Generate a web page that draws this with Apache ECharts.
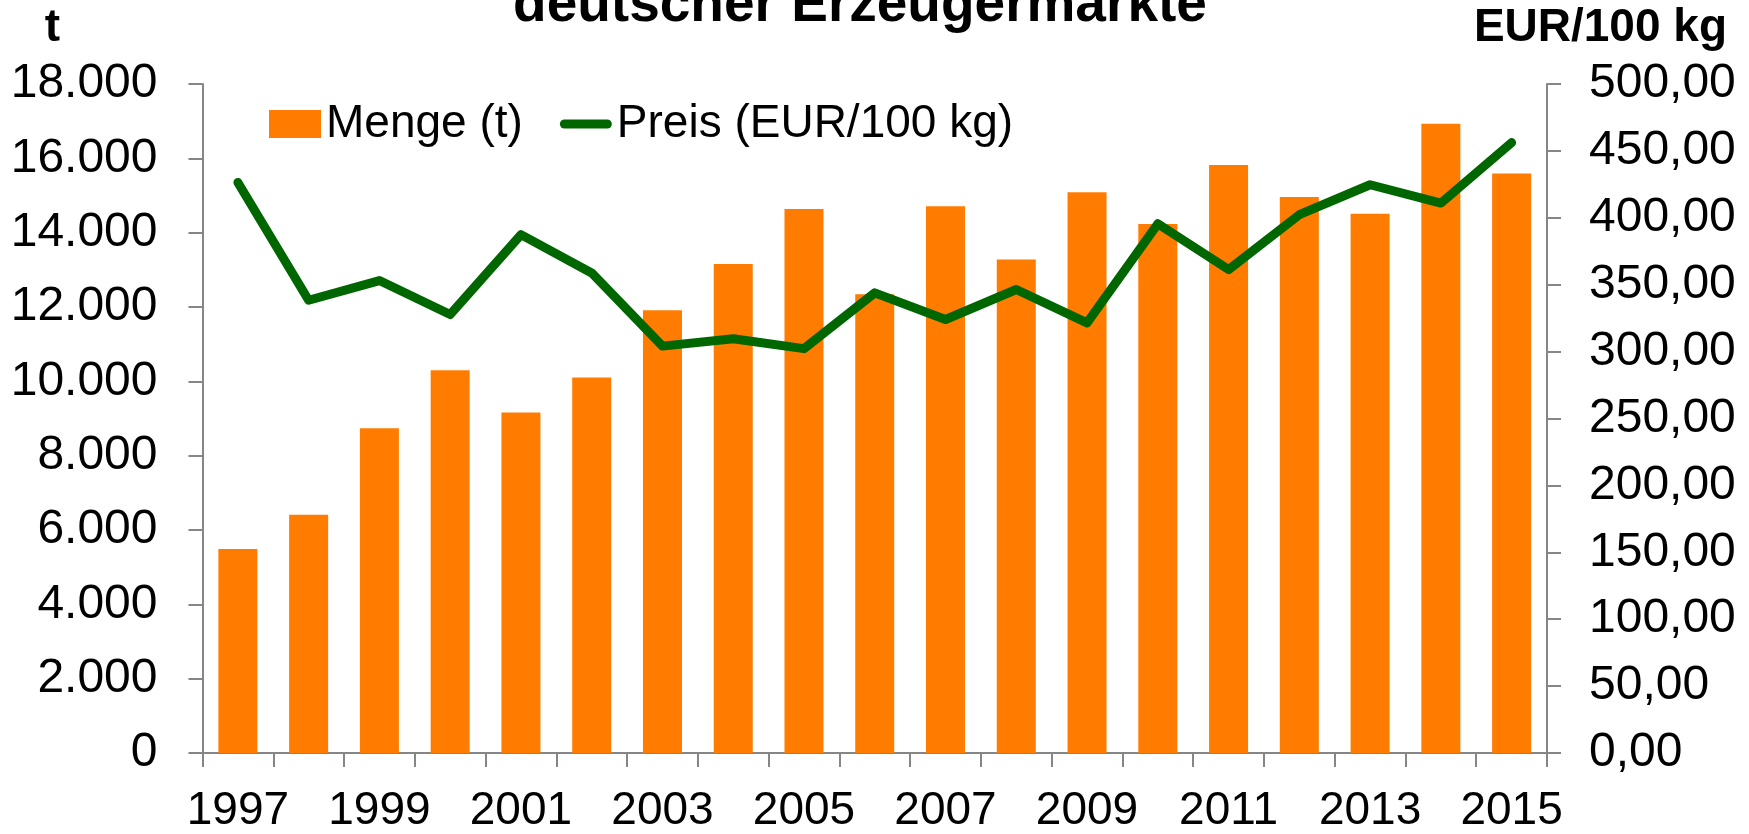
<!DOCTYPE html>
<html>
<head>
<meta charset="utf-8">
<title>Menge und Preis deutscher Erzeugermärkte</title>
<script src="https://cdn.jsdelivr.net/npm/echarts@6/dist/echarts.min.js"></script>
<style>
  html, body { margin: 0; padding: 0; background: #ffffff; }
  #main { width: 1749px; height: 834px; }
</style>
</head>
<body>
<div id="main"></div>
<script>
// Jahre
var years = ['1997', '1998', '1999', '2000', '2001', '2002', '2003', '2004', '2005', '2006',
  '2007', '2008', '2009', '2010', '2011', '2012', '2013', '2014', '2015'];
// Menge (t)
var menge = [5490, 6410, 8740, 10300, 9160, 10100, 11910, 13160, 14640, 12340,
  14710, 13280, 15090, 14230, 15820, 14960, 14510, 16930, 15590];
// Preis (EUR/100 kg)
var preis = [426.4, 338.4, 353.1, 327.7, 387.4, 358.8, 304.1, 309.6, 302.2, 343.9,
  324.0, 346.4, 321.5, 395.5, 361.3, 402.3, 424.7, 411.0, 456.2];

var FONT = "'Liberation Sans', Arial, sans-serif";
var AXIS_GRAY = '#868686';

var chart = echarts.init(document.getElementById('main'));

var option = {
  backgroundColor: '#ffffff',
  animation: false,
  textStyle: { fontFamily: FONT },
  graphic: [
    // Titel (oben abgeschnitten wie im Original)
    {
      type: 'text', x: 860, y: 6, z: 10,
      style: {
        text: 'deutscher Erzeugermärkte', fill: '#000',
        font: 'bold 55px ' + FONT, align: 'center', verticalAlign: 'middle'
      }
    },
    {
      type: 'text', x: 60, y: 28, z: 10,
      style: { text: 't', fill: '#000', font: 'bold 46px ' + FONT, align: 'right', verticalAlign: 'middle' }
    },
    {
      type: 'text', x: 1727, y: 28, z: 10,
      style: { text: 'EUR/100 kg', fill: '#000', font: 'bold 46px ' + FONT, align: 'right', verticalAlign: 'middle' }
    }
  ],
  legend: {
    left: 269,
    top: 101,
    padding: 0,
    itemWidth: 52,
    itemHeight: 28,
    itemGap: 37,
    textStyle: { fontSize: 46, color: '#000', fontFamily: FONT },
    data: [
      { name: 'Menge (t)', icon: 'rect' },
      { name: 'Preis (EUR/100 kg)', icon: 'path://M5,0 L52,0 A5,5 0 0 1 52,10 L5,10 A5,5 0 0 1 5,0 Z' }
    ]
  },
  grid: {
    left: 202.5,
    right: 202,
    top: 84,
    bottom: 79.5,
    containLabel: false
  },
  xAxis: {
    type: 'category',
    data: years,
    boundaryGap: true,
    axisLine: { lineStyle: { color: AXIS_GRAY, width: 2 } },
    axisTick: { show: true, interval: 0, length: 14, lineStyle: { color: AXIS_GRAY, width: 2 } },
    axisLabel: { interval: 1, fontSize: 46, color: '#000', margin: 35, fontFamily: FONT },
    splitLine: { show: false }
  },
  yAxis: [
    {
      type: 'value',
      min: 0,
      max: 18000,
      interval: 2000,
      position: 'left',
      axisLine: { show: true, lineStyle: { color: AXIS_GRAY, width: 2 } },
      axisTick: { show: true, length: 14, lineStyle: { color: AXIS_GRAY, width: 2 } },
      axisLabel: {
        fontSize: 48, color: '#000', margin: 45, fontFamily: FONT,
        formatter: function (v) { return String(v).replace(/\B(?=(\d{3})+(?!\d))/g, '.'); }
      },
      splitLine: { show: false }
    },
    {
      type: 'value',
      min: 0,
      max: 500,
      interval: 50,
      position: 'right',
      axisLine: { show: true, lineStyle: { color: AXIS_GRAY, width: 2 } },
      axisTick: { show: true, length: 14, lineStyle: { color: AXIS_GRAY, width: 2 } },
      axisLabel: {
        fontSize: 48, color: '#000', margin: 42, fontFamily: FONT,
        formatter: function (v) { return v.toFixed(2).replace('.', ','); }
      },
      splitLine: { show: false }
    }
  ],
  series: [
    {
      name: 'Menge (t)',
      type: 'bar',
      yAxisIndex: 0,
      barWidth: 39,
      itemStyle: { color: '#FF7C00' },
      data: menge
    },
    {
      name: 'Preis (EUR/100 kg)',
      type: 'line',
      yAxisIndex: 1,
      symbol: 'none',
      itemStyle: { color: '#006600' },
      lineStyle: { color: '#006600', width: 9, cap: 'round', join: 'round' },
      data: preis
    }
  ]
};

chart.setOption(option);
</script>
</body>
</html>
